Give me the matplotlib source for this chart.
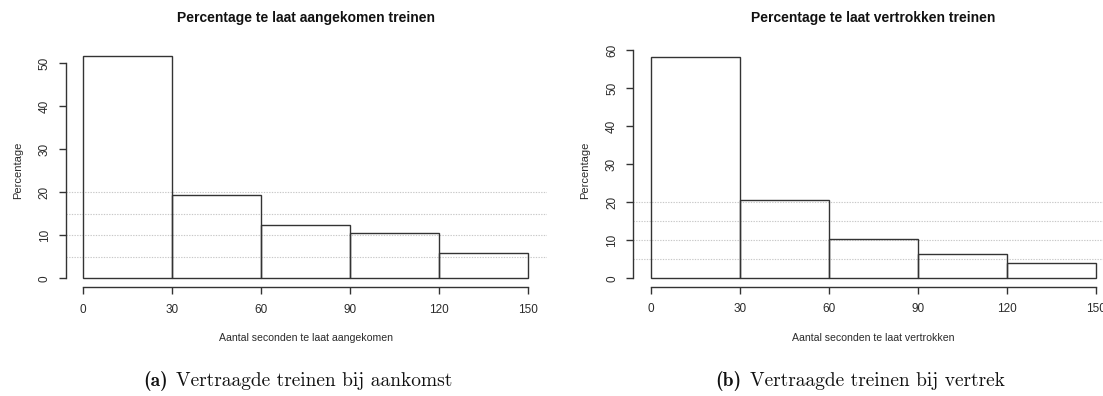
import matplotlib
matplotlib.use("Agg")
import matplotlib.pyplot as plt
import numpy as np

# ---- data ----
bin_edges = [0, 30, 60, 90, 120, 150]
arrival_pct = [51.7, 19.3, 12.5, 10.6, 5.9]
departure_pct = [58.2, 20.7, 10.4, 6.5, 3.9]
grid_levels = [5, 10, 15, 20]
x_ticks = [0, 30, 60, 90, 120, 150]
left_yticks = [0, 10, 20, 30, 40, 50]
right_yticks = [0, 10, 20, 30, 40, 50, 60]
titles = ["Percentage te laat aangekomen treinen", "Percentage te laat vertrokken treinen"]
xlabels = ["Aantal seconden te laat aangekomen", "Aantal seconden te laat vertrokken"]
ylabel = "Percentage"
caption_tags = ["(a)", "(b)"]
caption_texts = ["Vertraagde treinen bij aankomst", "Vertraagde treinen bij vertrek"]

plt.rcParams['font.family'] = ['Liberation Sans', 'DejaVu Sans']
plt.rcParams['axes.unicode_minus'] = False

W, H = 1103, 396
fig = plt.figure(figsize=(W / 100, H / 100), dpi=100)

ink = '#333333'
text_col = '#2b2b2b'


def make_panel(left_px, right_px, top_px, bottom_px, x0_px, y0_px, px_per_x, px_per_y,
               values, yticks, title, xlabel, ylab_x):
    ax = fig.add_axes([left_px / W, 1 - bottom_px / H, (right_px - left_px) / W,
                       (bottom_px - top_px) / H])
    ax.set_xlim(-(x0_px - left_px) / px_per_x, (right_px - x0_px) / px_per_x)
    ax.set_ylim(-(bottom_px - y0_px) / px_per_y, (y0_px - top_px) / px_per_y)
    ax.patch.set_alpha(0)
    for lv in grid_levels:
        ax.axhline(lv, color='#c8c8c8', lw=0.8, ls=(0, (1.2, 1.2)), zorder=1)
    widths = np.diff(bin_edges)
    ax.bar(bin_edges[:-1], values, width=widths, align='edge', facecolor='none',
           edgecolor=ink, linewidth=1.0, zorder=2)
    for s in ['top', 'right']:
        ax.spines[s].set_visible(False)
    ax.spines['left'].set_bounds(yticks[0], yticks[-1])
    ax.spines['bottom'].set_bounds(x_ticks[0], x_ticks[-1])
    for s in ['left', 'bottom']:
        ax.spines[s].set_color(ink)
        ax.spines[s].set_linewidth(1.0)
    ax.set_xticks(x_ticks)
    ax.set_yticks(yticks)
    ax.set_yticklabels([str(t) for t in yticks], rotation=90, va='center')
    ax.tick_params(axis='both', length=5, width=1.0, color=ink, labelcolor=text_col,
                   labelsize=8.5)
    ax.tick_params(axis='x', pad=7)
    ax.tick_params(axis='y', pad=6)
    # R centres title and x label on the plot region
    cx = x0_px + 75 * px_per_x
    fig.text(cx / W, 1 - 18 / H, title, ha='center', va='center',
             fontsize=10, fontweight='bold', color='#111111')
    fig.text(cx / W, 1 - 338 / H, xlabel, ha='center', va='center',
             fontsize=7.6, color=text_col)
    fig.text(ylab_x / W, 1 - 170 / H, ylabel, ha='center', va='center',
             rotation=90, fontsize=8, color=text_col)
    return ax


make_panel(66, 547, 40, 287.3, 83.3, 278.3, (528 - 83.3) / 150, (278.3 - 63.3) / 50,
           arrival_pct, left_yticks, titles[0], xlabels[0], 18)
make_panel(633.3, 1103, 40, 286.7, 650.7, 278.3, (1096 - 650.7) / 150, (278.3 - 50) / 60,
           departure_pct, right_yticks, titles[1], xlabels[1], 585)

# captions: bold tag + regular text, centred as one line
renderer = fig.canvas.get_renderer()
cap_centres = [298, 860]
cap_y = 1 - 381 / H
cap_size = 14
for tag, txt, cxp in zip(caption_tags, caption_texts, cap_centres):
    t1 = fig.text(0, cap_y, tag, ha='left', va='center', fontsize=cap_size,
                  family='cmb10', color='#111111')
    t2 = fig.text(0, cap_y, txt, ha='left', va='center', fontsize=cap_size,
                  family='cmr10', color='#111111')
    w1 = t1.get_window_extent(renderer).width
    w2 = t2.get_window_extent(renderer).width
    gap = cap_size * 1.389 * 0.4
    total = w1 + gap + w2
    start = cxp - total / 2
    t1.set_x(start / W)
    t2.set_x((start + w1 + gap) / W)

fig.savefig('out.png', dpi=100)
